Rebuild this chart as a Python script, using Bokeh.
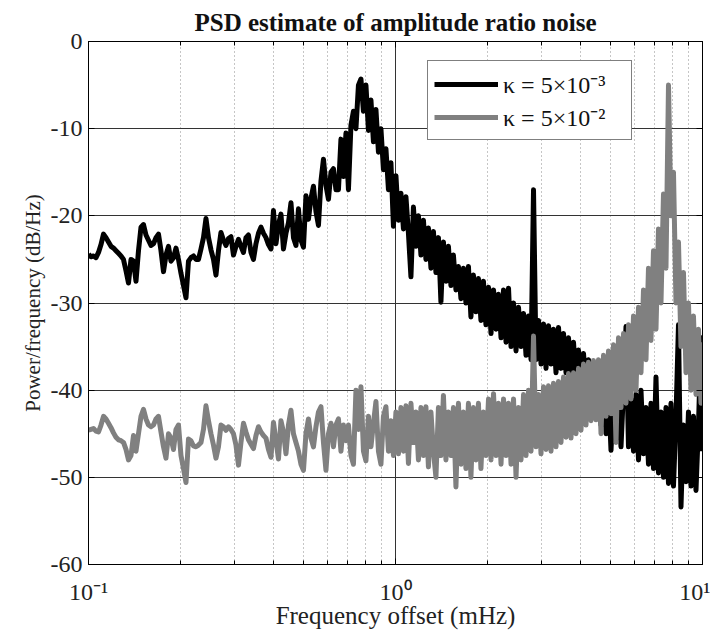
from bokeh.plotting import figure
from bokeh.models import (FixedTicker, CustomJSTickFormatter, Legend, LegendItem,
                          ColumnDataSource, Range1d, LinearAxis, LogAxis)
from bokeh.embed import file_html
from bokeh.resources import INLINE

# ---------------- data ----------------
freq_mhz = [
    0.1000, 0.10189, 0.10382, 0.10578, 0.10779, 0.10983, 0.11191, 0.11403, 0.11618, 0.11838,
    0.12062, 0.12290, 0.12523, 0.12760, 0.13001, 0.13247, 0.13498, 0.13754, 0.14014, 0.14279,
    0.14549, 0.14824, 0.15105, 0.15391, 0.15682, 0.15979, 0.16281, 0.16589, 0.16903, 0.17223,
    0.17549, 0.17881, 0.18220, 0.18565, 0.18916, 0.19274, 0.19638, 0.20010, 0.20389, 0.20775,
    0.21168, 0.21569, 0.21977, 0.22393, 0.22816, 0.23248, 0.23688, 0.24136, 0.24593, 0.25059,
    0.25533, 0.26016, 0.26508, 0.27010, 0.27521, 0.28042, 0.28572, 0.29113, 0.29664, 0.30225,
    0.30797, 0.31380, 0.31974, 0.32579, 0.33196, 0.33824, 0.34464, 0.35116, 0.35781, 0.36458,
    0.37148, 0.37851, 0.38567, 0.39297, 0.40040, 0.40798, 0.41570, 0.42357, 0.43158, 0.43975,
    0.44807, 0.45655, 0.46519, 0.47399, 0.48296, 0.49210, 0.50141, 0.51090, 0.52057, 0.53042,
    0.54046, 0.55069, 0.56111, 0.57173, 0.58254, 0.59357, 0.60480, 0.61625, 0.62790, 0.63979,
    0.65189, 0.66423, 0.67680, 0.68961, 0.70265, 0.71595, 0.72950, 0.74330, 0.75737, 0.77170,
    0.78630, 0.80118, 0.81634, 0.83179, 0.84753, 0.86357, 0.87991, 0.89656, 0.91352, 0.93081,
    0.94842, 0.96637, 0.98466, 1.00329, 1.02228, 1.04162, 1.06134, 1.08142, 1.10190, 1.12275,
    1.14400, 1.16565, 1.18771, 1.21019, 1.23309, 1.25643, 1.28020, 1.30443, 1.32912, 1.35427,
    1.37990, 1.40602, 1.43263, 1.45974, 1.48737, 1.51552, 1.54420, 1.57342, 1.60320, 1.63354,
    1.66446, 1.69596, 1.72806, 1.76076, 1.79409, 1.82804, 1.86264, 1.89789, 1.93381, 1.97041,
    2.0091, 2.0471, 2.0859, 2.1254, 2.1656, 2.2066, 2.2483, 2.2909, 2.3342, 2.3784,
    2.4234, 2.4693, 2.5160, 2.5636, 2.6121, 2.6615, 2.7119, 2.7632, 2.8155, 2.8688,
    2.9231, 2.9784, 3.0348, 3.0922, 3.1507, 3.2103, 3.2711, 3.3330, 3.3961, 3.4604,
    3.5258, 3.5925, 3.6605, 3.7298, 3.8004, 3.8723, 3.9456, 4.0203, 4.0963, 4.1738,
    4.2528, 4.3333, 4.4153, 4.4989, 4.5840, 4.6707, 4.7591, 4.8492, 4.9409, 5.0344,
    5.1297, 5.2268, 5.3257, 5.4265, 5.5292, 5.6338, 5.7404, 5.8490, 5.9597, 6.0725,
    6.1874, 6.3045, 6.4238, 6.5454, 6.6692, 6.7954, 6.9240, 7.0550, 7.1885, 7.3245,
    7.4632, 7.6044, 7.7483, 7.8949, 8.0443, 8.1965, 8.3516, 8.5096, 8.6707, 8.8348,
    9.0020, 9.1723, 9.3459, 9.5228, 9.7030, 9.8866, 10.0,
]

psd_kappa_5e3 = [
    -24.4, -24.7, -24.6, -24.8, -24.2, -23.3, -22.1, -22.5, -23.0, -23.5,
    -23.7, -24.0, -24.3, -24.6, -25.0, -26.3, -27.7, -25.0, -25.2, -27.5,
    -24.0, -21.3, -21.0, -22.2, -22.8, -23.4, -23.2, -22.5, -22.1, -24.0,
    -26.4, -24.5, -23.5, -25.2, -24.8, -23.7, -25.0, -26.6, -28.0, -29.4,
    -25.2, -24.8, -24.6, -25.0, -25.0, -23.8, -22.5, -20.3, -22.5, -23.9,
    -25.0, -26.8, -24.0, -21.9, -22.8, -23.4, -22.6, -22.4, -24.5, -23.5,
    -22.7, -23.5, -24.2, -22.5, -22.2, -24.2, -25.0, -23.2, -22.0, -21.3,
    -22.0, -22.5, -23.3, -23.8, -19.4, -23.2, -21.0, -19.8, -23.8, -22.0,
    -20.8, -18.5, -22.5, -23.4, -19.2, -22.8, -23.6, -17.7, -20.4, -18.0,
    -16.6, -19.5, -21.1, -16.0, -13.5, -16.5, -18.1, -15.0, -14.6, -17.0,
    -17.0, -11.2, -15.5, -10.5, -17.0, -9.6, -8.0, -10.0, -5.0, -4.3,
    -8.0, -5.0, -10.2, -6.7, -11.5, -7.8, -12.7, -10.0, -14.7, -12.3,
    -17.0, -13.9, -21.2, -15.4, -20.5, -17.4, -21.5, -17.8, -22.0, -27.0,
    -19.0, -23.5, -20.0, -24.5, -20.5, -25.0, -21.4, -26.0, -21.8, -26.5,
    -22.5, -29.9, -23.0, -27.5, -23.5, -28.0, -24.5, -28.5, -25.8, -29.5,
    -26.0, -30.0, -25.8, -31.6, -26.8, -31.0, -27.2, -32.0, -27.5, -32.5,
    -28.2, -33.5, -28.5, -33.0, -29.0, -34.0, -28.5, -34.5, -28.3, -35.0,
    -30.0, -35.5, -30.5, -35.0, -31.2, -36.0, -31.5, -36.5, -17.0, -36.5,
    -32.0, -37.0, -32.4, -37.5, -32.6, -37.0, -33.0, -38.0, -32.8, -37.5,
    -33.5, -38.0, -34.0, -38.5, -34.5, -39.0, -35.4, -39.2, -35.8, -39.6,
    -36.5, -40.5, -37.3, -41.5, -38.0, -44.0, -39.0, -45.0, -40.0, -46.9,
    -40.5, -45.5, -41.0, -46.5, -40.0, -32.7, -46.5, -41.0, -47.0, -40.5,
    -48.0, -40.0, -47.3, -42.0, -48.5, -41.5, -49.0, -38.5, -49.5, -42.5,
    -50.0, -42.0, -50.7, -41.5, -51.0, -43.0, -32.5, -53.4, -44.0, -50.5,
    -42.5, -51.0, -43.0, -51.5, -44.0, -34.0, -47.0,
]

psd_kappa_5e2 = [
    -44.6, -44.5, -44.4, -44.7, -44.8, -44.0, -43.0, -43.3, -43.8, -44.3,
    -44.9, -45.4, -45.7, -45.8, -46.0, -46.8, -48.0, -47.5, -45.2, -47.0,
    -45.0, -43.0, -42.2, -43.3, -44.0, -44.2, -44.0, -43.3, -43.0, -44.8,
    -46.5, -47.8, -45.0, -45.5, -46.8, -44.5, -44.0, -47.5, -49.0, -50.6,
    -45.6, -45.8, -46.4, -46.5, -46.3, -46.0, -44.5, -41.8, -43.5, -45.0,
    -46.3, -47.8, -46.5, -44.0, -44.2, -44.6, -44.2, -44.5, -45.0, -46.3,
    -48.6, -46.0, -43.8, -44.8, -45.7, -46.2, -46.7, -45.2, -44.2, -44.8,
    -45.2, -45.5, -46.8, -47.7, -43.7, -45.8, -47.9, -43.5, -44.8, -47.3,
    -44.0, -42.3, -45.0, -46.0, -47.0, -48.5, -49.2, -45.0, -43.3, -45.5,
    -46.5, -44.2, -42.5, -41.9, -46.0, -49.2, -45.0, -43.8, -46.5, -44.0,
    -43.3, -47.0, -44.0, -45.8, -44.0, -47.5, -48.5, -40.0, -44.5, -39.6,
    -47.0, -48.1, -43.0, -46.5, -43.8, -41.3, -47.0, -48.5, -43.0, -41.9,
    -47.0, -43.5, -47.5, -42.5, -47.3, -42.0, -47.0, -41.8, -48.4, -41.5,
    -46.0, -42.5, -48.0, -42.0, -47.5, -41.9, -48.8, -42.5, -47.0, -50.0,
    -42.0, -47.5, -40.6, -48.0, -42.5, -47.5, -42.0, -51.1, -41.5, -48.5,
    -42.5, -49.0, -41.5, -50.0, -42.0, -48.0, -41.5, -49.0, -42.5, -47.5,
    -41.0, -48.0, -40.4, -47.5, -41.5, -48.5, -41.0, -47.5, -41.5, -48.5,
    -41.0, -50.0, -42.0, -48.0, -40.5, -47.5, -40.0, -47.0, -33.8, -46.5,
    -40.5, -47.3, -39.6, -46.8, -39.5, -47.0, -39.2, -46.5, -39.0, -46.0,
    -38.5, -45.4, -38.1, -45.5, -38.0, -45.0, -37.5, -44.6, -37.0, -44.0,
    -36.8, -43.5, -36.6, -43.4, -36.5, -45.0, -36.0, -43.0, -35.5, -42.7,
    -34.8, -46.0, -34.0, -42.0, -33.5, -41.5, -32.5, -41.0, -31.5, -40.0,
    -30.5, -38.0, -28.5, -36.5, -26.0, -34.3, -24.0, -33.0, -21.5, -30.0,
    -17.5, -26.0, -5.0, -20.0, -15.0, -30.0, -23.0, -35.0, -26.5, -38.0,
    -30.0, -40.0, -31.5, -40.5, -33.0, -41.5, -34.5,
]

series_labels = ["\u03ba = 5\u00d710\u207b\u00b3", "\u03ba = 5\u00d710\u207b\u00b2"]
series_colors = ["#000000", "#808080"]

x_major_ticks = [0.1, 1, 10]
x_minor_ticks = [0.2, 0.3, 0.4, 0.5, 0.6, 0.7, 0.8, 0.9, 2, 3, 4, 5, 6, 7, 8, 9]
y_ticks = [-60, -50, -40, -30, -20, -10, 0]

title_text = "PSD estimate of amplitude ratio noise"
x_label = "Frequency offset (mHz)"
y_label = "Power/frequency (dB/Hz)"

assert len(freq_mhz) == len(psd_kappa_5e3) == len(psd_kappa_5e2)

FONT = "Liberation Serif"

# ---------------- figure ----------------
p = figure(width=710, height=631, x_axis_type="log",
           x_range=Range1d(0.1, 10), y_range=Range1d(-60, 0),
           output_backend="svg", toolbar_location=None,
           min_border_left=88, min_border_right=8,
           min_border_top=41, min_border_bottom=65)
p.background_fill_color = "white"
p.border_fill_color = "white"
p.outline_line_color = "black"
p.outline_line_width = 1

p.title.text = title_text
p.title.align = "center"
p.title.text_font = FONT
p.title.text_font_size = "25px"
p.title.text_font_style = "bold"
p.title.text_color = "#111111"
p.title.standoff = 11

src = ColumnDataSource(dict(f=freq_mhz, a=psd_kappa_5e3, b=psd_kappa_5e2))
r1 = p.line("f", "a", source=src, line_color=series_colors[0], line_width=5, line_join="round")
r2 = p.line("f", "b", source=src, line_color=series_colors[1], line_width=5, line_join="round")

xticker = FixedTicker(ticks=x_major_ticks, minor_ticks=x_minor_ticks)
yticker = FixedTicker(ticks=y_ticks)

xfmt = CustomJSTickFormatter(code="""
if (tick < 0.5) { return '10\u207b\u00b9'; }
if (tick < 5) { return '10\u2070'; }
return '10\u00b9';
""")
yfmt = CustomJSTickFormatter(code="return String(Math.round(tick));")

xa = p.xaxis[0]
xa.ticker = xticker
xa.formatter = xfmt
ya = p.yaxis[0]
ya.ticker = yticker
ya.formatter = yfmt

for ax in (xa, ya):
    ax.major_label_text_font = FONT
    ax.major_label_text_font_size = "24px"
    ax.major_label_text_color = "#222222"
    ax.axis_label_text_font = FONT
    ax.axis_label_text_font_style = "normal"
    ax.axis_label_text_color = "#222222"
    ax.axis_line_color = "black"
    ax.major_tick_in = 6
    ax.major_tick_out = 0
    ax.minor_tick_in = 4
    ax.minor_tick_out = 0
    ax.major_tick_line_color = "black"
    ax.minor_tick_line_color = "black"

xa.axis_label = x_label
xa.axis_label_text_font_size = "25px"
xa.major_label_standoff = 14
xa.axis_label_standoff = -6
ya.axis_label = y_label
ya.axis_label_text_font_size = "21px"
ya.major_label_standoff = 6
ya.axis_label_standoff = 3
ya.minor_tick_line_color = None

blank = CustomJSTickFormatter(code="return '';")
top_axis = LogAxis(ticker=FixedTicker(ticks=x_major_ticks, minor_ticks=x_minor_ticks),
                   formatter=blank, major_label_standoff=0,
                   major_label_text_font_size="1px",
                   major_tick_in=6, major_tick_out=0, minor_tick_in=4, minor_tick_out=0,
                   axis_line_color="black")
right_axis = LinearAxis(ticker=FixedTicker(ticks=y_ticks), formatter=blank,
                        major_label_standoff=0, major_label_text_font_size="1px",
                        major_tick_in=6, major_tick_out=0, minor_tick_line_color=None,
                        axis_line_color="black")
p.add_layout(top_axis, "above")
p.add_layout(right_axis, "right")

p.xgrid.grid_line_color = "#333333"
p.xgrid.grid_line_width = 1
p.xgrid.minor_grid_line_color = "#8c8c8c"
p.xgrid.minor_grid_line_dash = "1 3"
p.ygrid.grid_line_color = "#333333"
p.ygrid.grid_line_width = 1

legend = Legend(items=[LegendItem(label=series_labels[0], renderers=[r1]),
                       LegendItem(label=series_labels[1], renderers=[r2])],
                location=(339, 424))
legend.label_text_font = FONT
legend.label_text_font_size = "24px"
legend.label_text_color = "#111111"
legend.glyph_width = 64
legend.glyph_height = 30
legend.label_height = 30
legend.label_width = 122
legend.spacing = 0
legend.padding = 6
legend.margin = 0
legend.label_standoff = 5
legend.border_line_color = "black"
legend.border_line_width = 1
legend.background_fill_color = "white"
legend.background_fill_alpha = 1
p.add_layout(legend)

open("out.html", "w").write(file_html(p, INLINE))
